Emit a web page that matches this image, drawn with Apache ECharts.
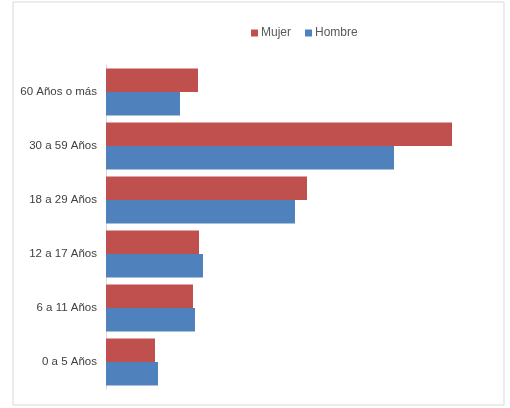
<!DOCTYPE html>
<html>
<head>
<meta charset="utf-8">
<script src="https://cdn.jsdelivr.net/npm/echarts@6/dist/echarts.min.js"></script>
<style>
  html, body { margin: 0; padding: 0; background: #fff; }
  #chart { width: 510px; height: 408px; }
</style>
</head>
<body>
<div id="chart"></div>
<script>
// categories, bottom to top
const categories = ['0 a 5 Años', '6 a 11 Años', '12 a 17 Años', '18 a 29 Años', '30 a 59 Años', '60 Años o más']
const mujer = [49, 87, 93, 201, 346, 92]
const hombre = [52, 89, 97, 189, 288, 74]

const chart = echarts.init(document.getElementById('chart'))
chart.setOption({
  animation: false,
  textStyle: { fontFamily: 'Liberation Sans, Arial, sans-serif' },
  graphic: [{
    type: 'rect',
    shape: { x: 13, y: 2, width: 491, height: 403 },
    style: { fill: 'none', stroke: '#d9d9d9', lineWidth: 1 },
    silent: true
  }],
  legend: {
    data: ['Mujer', 'Hombre'],
    top: 22,
    left: 246,
    itemWidth: 7,
    itemHeight: 7,
    itemGap: 14,
    icon: 'rect',
    textStyle: { color: '#595959', fontSize: 12, padding: [0, 0, 0, -2] }
  },
  grid: { left: 106, right: 4, top: 65, bottom: 19 },
  xAxis: {
    type: 'value',
    min: 0,
    max: 400,
    show: false
  },
  yAxis: {
    type: 'category',
    data: categories,
    axisLine: { show: true, lineStyle: { color: '#d9d9d9' } },
    axisTick: { show: false },
    axisLabel: { color: '#404040', fontSize: 11.5, margin: 9 }
  },
  series: [
    {
      name: 'Mujer',
      type: 'bar',
      data: mujer,
      barCategoryGap: '13%',
      barGap: '0%',
      itemStyle: { color: '#c0504d' }
    },
    {
      name: 'Hombre',
      type: 'bar',
      data: hombre,
      barCategoryGap: '13%',
      barGap: '0%',
      itemStyle: { color: '#4f81bd' }
    }
  ]
})
</script>
</body>
</html>
